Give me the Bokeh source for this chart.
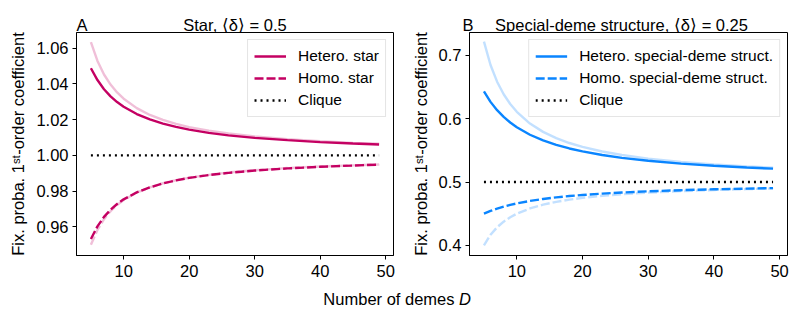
from bokeh.plotting import figure
from bokeh.layouts import column, row
from bokeh.models import Legend, LegendItem, FixedTicker
from bokeh.core.properties import value
from bokeh.embed import file_html
from bokeh.resources import INLINE

# ---------------- data ----------------
demes = [5, 6, 7, 8, 9, 10, 12, 14, 16, 18, 20, 23, 26, 30, 35, 40, 45, 49]

star_hetero = [1.0487, 1.0421, 1.0370, 1.0330, 1.0298, 1.0272, 1.0231, 1.0201, 1.0177,
               1.0159, 1.0144, 1.0126, 1.0112, 1.0098, 1.0085, 1.0074, 1.0066, 1.0061]
star_hetero_light = [1.0633, 1.0528, 1.0452, 1.0396, 1.0352, 1.0317, 1.0264, 1.0226, 1.0198,
                     1.0176, 1.0158, 1.0138, 1.0122, 1.0106, 1.0090, 1.0079, 1.0070, 1.0065]
star_homo = [0.9532, 0.9603, 0.9656, 0.9696, 0.9728, 0.9754, 0.9793, 0.9821, 0.9843,
             0.9860, 0.9874, 0.9890, 0.9902, 0.9915, 0.9927, 0.9936, 0.9943, 0.9948]
star_homo_light = [0.9500, 0.9583, 0.9643, 0.9688, 0.9722, 0.9750, 0.9792, 0.9821, 0.9844,
                   0.9861, 0.9875, 0.9891, 0.9904, 0.9917, 0.9929, 0.9938, 0.9944, 0.9949]
star_clique = [1.0] * len(demes)

sd_hetero = [0.6433, 0.6267, 0.6136, 0.6029, 0.5941, 0.5866, 0.5748, 0.5658, 0.5587,
             0.5531, 0.5484, 0.5427, 0.5382, 0.5336, 0.5291, 0.5257, 0.5230, 0.5212]
sd_hetero_light = [0.7220, 0.6850, 0.6586, 0.6388, 0.6233, 0.6110, 0.5925, 0.5793, 0.5694,
                   0.5617, 0.5555, 0.5483, 0.5427, 0.5370, 0.5317, 0.5278, 0.5247, 0.5227]
sd_homo = [0.4500, 0.4544, 0.4581, 0.4613, 0.4640, 0.4663, 0.4702, 0.4733, 0.4758,
           0.4779, 0.4796, 0.4818, 0.4835, 0.4854, 0.4872, 0.4886, 0.4897, 0.4905]
sd_homo_light = [0.4000, 0.4167, 0.4286, 0.4375, 0.4444, 0.4500, 0.4583, 0.4643, 0.4688,
                 0.4722, 0.4750, 0.4783, 0.4808, 0.4833, 0.4857, 0.4875, 0.4889, 0.4898]
sd_clique = [0.5] * len(demes)

x_ticks = [10, 20, 30, 40, 50]
y_ticks_a = [0.96, 0.98, 1.00, 1.02, 1.04, 1.06]
y_tick_labels_a = ["0.96", "0.98", "1.00", "1.02", "1.04", "1.06"]
y_ticks_b = [0.4, 0.5, 0.6, 0.7]
y_tick_labels_b = ["0.4", "0.5", "0.6", "0.7"]

FONT = "Liberation Sans"
FS = "16.5px"
STAR_COLOR = "#C40062"
SD_COLOR = "#0A85FF"
LW = 2.4


def make_panel(frame_w, border_left, border_right, y_range, yticks, ylabels,
               hetero, hetero_l, homo, homo_l, clique, color, names):
    p = figure(frame_width=frame_w, frame_height=223, x_range=(2.8, 51.2), y_range=y_range,
               output_backend="svg", toolbar_location=None,
               min_border_left=border_left, min_border_right=border_right,
               min_border_top=0, min_border_bottom=28)
    p.title.visible = False
    p.grid.visible = False
    p.outline_line_color = "black"
    p.outline_line_width = 1
    p.background_fill_color = "white"
    p.border_fill_color = "white"

    p.xaxis.ticker = FixedTicker(ticks=x_ticks)
    p.yaxis.ticker = FixedTicker(ticks=yticks)
    p.yaxis.major_label_overrides = {t: l for t, l in zip(yticks, ylabels)}
    for ax in (p.xaxis[0], p.yaxis[0]):
        ax.axis_line_color = "black"
        ax.major_tick_line_color = "black"
        ax.major_tick_in = 0
        ax.major_tick_out = 4
        ax.minor_tick_line_color = None
        ax.major_label_text_font = FONT
        ax.major_label_text_font_size = FS
        ax.major_label_text_color = "black"
    p.xaxis.major_label_standoff = 5
    p.yaxis.major_label_standoff = 4
    p.yaxis.axis_label = "Fix. proba. 1ˢᵗ-order coefficient"
    p.yaxis.axis_label_text_font = FONT
    p.yaxis.axis_label_text_font_size = FS
    p.yaxis.axis_label_text_font_style = "normal"
    p.yaxis.axis_label_text_color = "black"
    p.yaxis.axis_label_standoff = 6

    p.line(demes, hetero_l, line_color=color, line_alpha=0.25, line_width=LW)
    p.line(demes, homo_l, line_color=color, line_alpha=0.25, line_width=LW,
           line_dash="9 3")
    r1 = p.line(demes, hetero, line_color=color, line_width=LW)
    r2 = p.line(demes, homo, line_color=color, line_width=LW, line_dash="9 3")
    r3 = p.line(demes, clique, line_color="black", line_width=LW, line_dash="2 4")

    legend = Legend(items=[LegendItem(label=names[0], renderers=[r1]),
                           LegendItem(label=names[1], renderers=[r2]),
                           LegendItem(label="Clique", renderers=[r3])],
                    location="top_right")
    legend.label_text_font = FONT
    legend.label_text_font_size = "15.5px"
    legend.label_text_color = "black"
    legend.glyph_width = 32
    legend.glyph_height = 20
    legend.label_height = 20
    legend.spacing = 2
    legend.padding = 6
    legend.margin = 7
    legend.label_standoff = 12
    legend.border_line_color = "#cccccc"
    legend.border_line_width = 1
    legend.background_fill_alpha = 0.8
    p.add_layout(legend, "center")
    return p


pA = make_panel(317, 76, 15, (0.9440, 1.0687), y_ticks_a, y_tick_labels_a,
                star_hetero, star_hetero_light, star_homo, star_homo_light, star_clique,
                STAR_COLOR, ["Hetero. star", "Homo. star"])
pB = make_panel(318, 54, 5, (0.384, 0.7363), y_ticks_b, y_tick_labels_b,
                sd_hetero, sd_hetero_light, sd_homo, sd_homo_light, sd_clique,
                SD_COLOR, ["Hetero. special-deme struct.", "Homo. special-deme struct."])


def text_strip(height, labels):
    f = figure(width=785, height=height, x_range=(0, 785), y_range=(0, height),
               output_backend="svg", toolbar_location=None,
               x_axis_location=None, y_axis_location=None,
               min_border=0, min_border_left=0, min_border_right=0,
               min_border_top=0, min_border_bottom=0)
    f.title.visible = False
    f.grid.visible = False
    f.outline_line_color = None
    for (x, y, txt, align, style) in labels:
        f.text(x=[x], y=[y], text=[txt], text_align=align,
               text_baseline="alphabetic", text_font=value(FONT),
               text_font_size=FS, text_font_style=style, text_color="black")
    return f


header = text_strip(32, [
    (76, 8, "A", "left", "normal"),
    (234.5, 8, "Star, ⟨δ⟩ = 0.5", "center", "normal"),
    (462, 8, "B", "left", "normal"),
    (621, 8, "Special-deme structure, ⟨δ⟩ = 0.25", "center", "normal"),
])
footer = text_strip(27, [
    (454, 11.5, "Number of demes", "right", "normal"),
    (458.5, 11.5, "D", "left", "italic"),
])

layout = column(header, row(pA, pB), footer)
open("out.html", "w").write(file_html(layout, INLINE))
